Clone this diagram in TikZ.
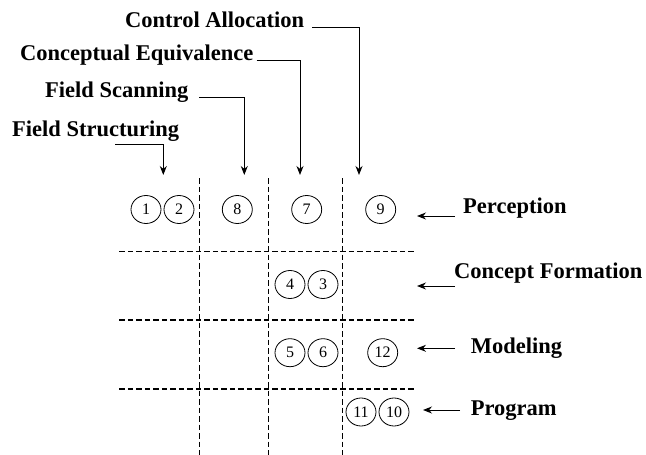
\documentclass[tikz,border=0pt]{standalone}
\usepackage{fontspec}
\setmainfont{Liberation Serif}
\usetikzlibrary{%
        arrows.meta,
        shapes.geometric
    }
\tikzset{
    numcirc/.style={draw, ellipse, line width=0.8pt, inner sep=0pt,
        minimum width=30pt, minimum height=28pt,
        font=\fontsize{16}{18}\selectfont},
    gridline/.style={line width=1.1pt, dash pattern=on 5.5pt off 3pt},
    pointer/.style={-{Stealth[length=9pt, width=7pt]}, line width=1pt},
    stage/.style={anchor=base west, inner sep=0pt,
        font=\fontsize{22.5}{26}\selectfont\bfseries}
}

\begin{document}
\begin{tikzpicture}[x=1pt, y=-1pt]

    \useasboundingbox (0, 0) rectangle (646, 455);

    % dashed grid
    \foreach \x in {199.3, 268.3, 342.7} {%
        \draw[gridline] (\x, 178) -- (\x, 455);
    };
    \foreach \y in {251.7, 320, 389} {%
        \draw[gridline] (119.3, \y) -- (416.7, \y);
    };

    % numbered steps
    \foreach \n/\x/\y in {1/146/209.5, 2/179/209.5, 8/237.3/209.5,
            7/306.7/209.5, 9/380.7/209.5,
            4/290/284.5, 3/323/284.5,
            5/290/352.7, 6/323/352.7, 12/382.7/352.7,
            11/361/412, 10/394/412} {%
        \node[numcirc] (c\n) at (\x, \y) {\n};
    };

    % functions on top
    \node[stage] (calloc) at (125, 27.3) {Control Allocation};
    \node[stage] (cequiv) at (20, 60) {Conceptual Equivalence};
    \node[stage] (fscan) at (45, 97.7) {Field Scanning};
    \node[stage] (fstruct) at (12, 136.7) {Field Structuring};

    \coordinate (tipA) at (163.3, 175);
    \coordinate (tipB) at (244.3, 175);
    \coordinate (tipC) at (300, 175);
    \coordinate (tipD) at (359, 175);

    \draw[pointer] ([xshift=8pt]calloc.base east) -| (tipD);
    \draw[pointer] ([xshift=3pt]cequiv.base east) -| (tipC);
    \draw[pointer] ([xshift=10.7pt]fscan.base east) -| (tipB);
    \draw[pointer] ([xshift=19.7pt, yshift=-7.6pt]fstruct.base) -| (tipA);

    % levels on the right
    \node[stage] (perc) at (463, 213.3) {Perception};
    \node[stage] (cform) at (454, 278.3) {Concept Formation};
    \node[stage] (model) at (470.7, 353.3) {Modeling};
    \node[stage] (prog) at (470.7, 415) {Program};

    \draw[pointer] ([xshift=-8pt, yshift=-2.7pt]perc.base west) -- ++(-38, 0);
    \draw[pointer] ([xshift=1pt, yshift=-7.7pt]cform.base west) -- ++(-38, 0);
    \draw[pointer] ([xshift=-15.7pt, yshift=5pt]model.base west) -- ++(-38, 0);
    \draw[pointer] ([xshift=-10.7pt, yshift=5pt]prog.base west) -- ++(-37, 0);

\end{tikzpicture}
\end{document}
